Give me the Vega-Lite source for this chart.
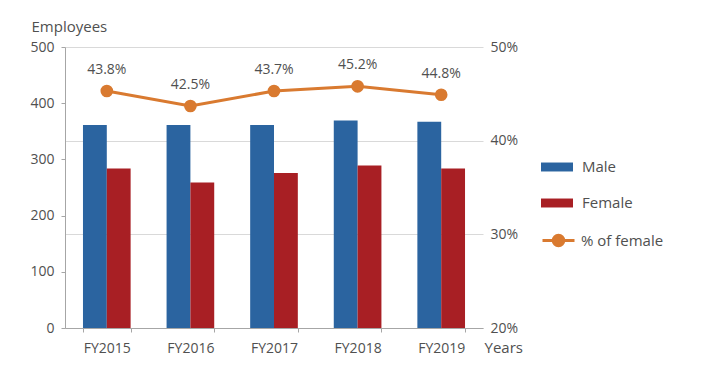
{
  "$schema": "https://vega.github.io/schema/vega-lite/v6.json",
  "width": 418,
  "height": 281,
  "autosize": {"type": "none"},
  "padding": {"left": 65, "top": 47, "right": 237, "bottom": 42},
  "background": "white",
  "config": {
    "font": "Open Sans",
    "view": {"stroke": null},
    "axis": {"labelFont": "Open Sans", "titleFont": "Open Sans"},
    "legend": {"labelFont": "Open Sans"}
  },
  "data": {
    "values": [
      {"year": "FY2015", "Male": 361, "Female": 284, "pct": 45.3, "label": "43.8%"},
      {"year": "FY2016", "Male": 361, "Female": 259, "pct": 43.7, "label": "42.5%"},
      {"year": "FY2017", "Male": 361, "Female": 276, "pct": 45.3, "label": "43.7%"},
      {"year": "FY2018", "Male": 369, "Female": 289, "pct": 45.8, "label": "45.2%"},
      {"year": "FY2019", "Male": 367, "Female": 284, "pct": 44.9, "label": "44.8%"}
    ]
  },
  "layer": [
    {
      "transform": [{"fold": ["Male", "Female"], "as": ["gender", "count"]}],
      "mark": {"type": "bar"},
      "encoding": {
        "x": {
          "field": "year",
          "type": "nominal",
          "scale": {"paddingInner": 0.43, "paddingOuter": 0.215},
          "axis": {
            "title": "Years",
            "titleX": 419,
            "titleY": 24,
            "titleAlign": "left",
            "titleBaseline": "alphabetic",
            "titleFontSize": 15,
            "titleFontWeight": "normal",
            "titleColor": "#505050",
            "labelAngle": 0,
            "labelFontSize": 14,
            "labelColor": "#505050",
            "labelPadding": 9,
            "tickBand": "extent",
            "tickSize": 4,
            "tickColor": "#a6a6a6",
            "domainColor": "#a6a6a6",
            "grid": false
          }
        },
        "xOffset": {
          "field": "gender",
          "type": "nominal",
          "sort": ["Male", "Female"],
          "scale": {"paddingInner": 0, "paddingOuter": 0}
        },
        "y": {
          "field": "count",
          "type": "quantitative",
          "scale": {"domain": [0, 500], "nice": false},
          "axis": {
            "orient": "left",
            "title": "Employees",
            "titleAngle": 0,
            "titleX": -34,
            "titleY": -16,
            "titleAlign": "left",
            "titleBaseline": "alphabetic",
            "titleFontSize": 15,
            "titleFontWeight": "normal",
            "titleColor": "#505050",
            "values": [0, 100, 200, 300, 400, 500],
            "grid": false,
            "tickSize": 4,
            "tickColor": "#a6a6a6",
            "domainColor": "#a6a6a6",
            "labelPadding": 7,
            "labelFontSize": 14,
            "labelColor": "#505050"
          }
        },
        "color": {
          "field": "gender",
          "type": "nominal",
          "sort": ["Male", "Female"],
          "scale": {"domain": ["Male", "Female"], "range": ["#2b64a0", "#a81f24"]},
          "legend": {
            "title": null,
            "orient": "none",
            "legendX": 476,
            "legendY": 104,
            "symbolType": "M-1,-0.28H1V0.28H-1Z",
            "symbolSize": 1024,
            "symbolStrokeWidth": 0,
            "symbolOpacity": 1,
            "rowPadding": 12,
            "labelOffset": 9,
            "labelFontSize": 15,
            "labelColor": "#505050"
          }
        }
      }
    },
    {
      "layer": [
        {
          "mark": {"type": "line", "strokeWidth": 3},
          "encoding": {
            "x": {"field": "year", "type": "nominal"},
            "y": {
              "field": "pct",
              "type": "quantitative",
              "scale": {"domain": [20, 50], "nice": false},
              "axis": {
                "orient": "right",
                "title": null,
                "values": [20, 30, 40, 50],
                "labelExpr": "datum.value + '%'",
                "grid": true,
                "gridColor": "#d9d9d9",
                "domain": false,
                "ticks": false,
                "labelPadding": 7,
                "labelFontSize": 14,
                "labelColor": "#505050"
              }
            },
            "stroke": {
              "datum": "% of female",
              "type": "nominal",
              "scale": {"range": ["#d97a30"]},
              "legend": {
                "title": null,
                "orient": "none",
                "legendX": 476,
                "legendY": 176,
                "symbolType": "M-1,0H1M-0.33,0A0.33,0.33 0 1,0 0.33,0A0.33,0.33 0 1,0 -0.33,0",
                "symbolSize": 1024,
                "symbolStrokeWidth": 3,
                "symbolFillColor": "#d97a30",
                "labelOffset": 5,
                "labelFontSize": 15,
                "labelColor": "#505050",
                "encode": {"symbols": {"update": {"fill": {"value": "#d97a30"}, "stroke": {"value": "#d97a30"}}}}
              }
            }
          }
        },
        {
          "mark": {"type": "point", "filled": true, "size": 160, "opacity": 1, "color": "#d97a30"},
          "encoding": {
            "x": {"field": "year", "type": "nominal"},
            "y": {"field": "pct", "type": "quantitative"}
          }
        },
        {
          "mark": {"type": "text", "dy": -21, "fontSize": 14, "color": "#505050", "baseline": "middle"},
          "encoding": {
            "x": {"field": "year", "type": "nominal"},
            "y": {"field": "pct", "type": "quantitative"},
            "text": {"field": "label"}
          }
        }
      ]
    }
  ],
  "resolve": {"scale": {"y": "independent"}}
}
